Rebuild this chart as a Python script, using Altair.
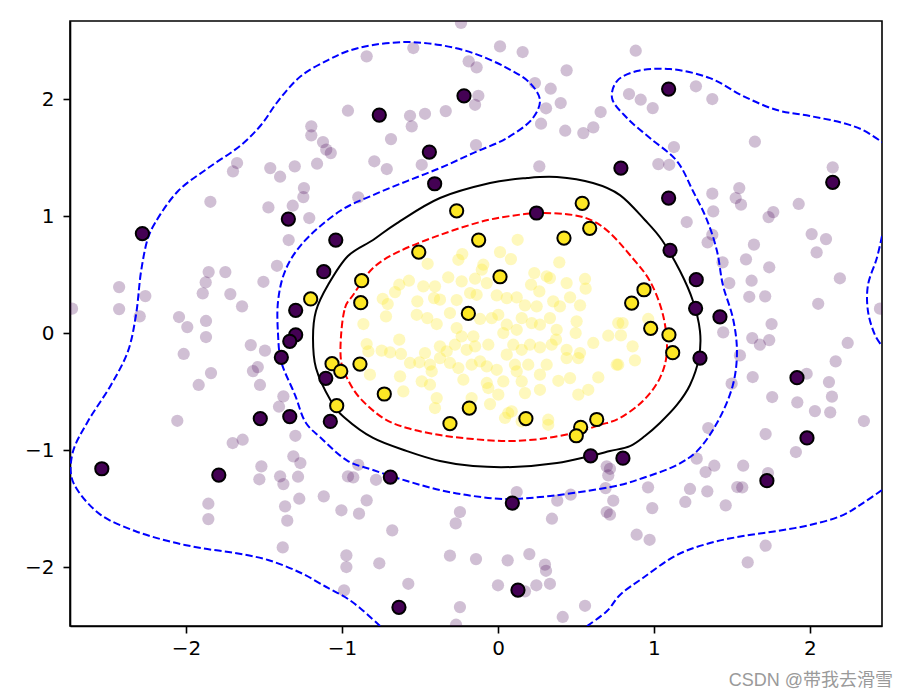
import altair as alt
import pandas as pd

# ---------------- data ----------------
# faint training points, class 0 (purple)
bg0_x = [-0.962,-1.197,-1.197,-1.122,-1.101,-1.072,-1.673,-1.699,-1.460,-1.303,-1.160,-1.397,-1.244,-1.248,-1.844,-1.472,-1.316,-1.210,
         -0.237,-0.543,-0.842,0.013,0.158,-0.188,-0.137,0.440,0.237,0.338,-0.126,-0.147,-0.564,-0.468,-0.335,0.308,0.402,-0.553,0.276,0.431,0.547,0.611,0.658,-0.686,-0.141,-0.793,-0.713,-0.489,0.265,-0.896,
         0.883,0.840,0.915,0.992,1.269,1.374,1.647,1.128,1.028,1.098,2.146,1.374,1.547,1.524,1.558,1.380,1.928,1.765,1.735,1.210,
         -1.342,-1.417,-1.504,-2.429,-2.261,-2.429,-2.731,-2.297,-1.855,-1.748,-1.874,-1.893,-1.716,-1.641,-2.045,-1.992,-1.872,-1.872,-2.015,-1.585,-1.494,-1.540,-1.571,-1.840,-1.919,-1.526,-1.376,-1.404,-2.056,
         -1.701,-1.637,-1.299,-1.312,-1.267,-1.517,-1.530,-1.397,-1.376,-1.282,-1.117,-1.274,-1.857,-1.857,-1.365,-1.351,-1.380,-1.004,-0.962,-0.972,-0.972,-0.987,
         -0.896,-0.928,-0.782,-0.842,-0.891,-0.678,-0.244,-0.271,0.120,0.380,0.466,0.346,0.697,0.707,0.718,0.690,0.739,0.697,0.718,-0.761,-0.308,-0.141,0.062,0.201,0.301,0.308,0.333,0.246,0.173,0.000,-0.575,-0.244,-0.269,0.415,0.558,
         1.348,1.716,1.910,2.346,1.274,1.387,1.331,1.572,1.731,1.534,1.566,0.962,1.231,1.342,1.201,0.989,1.460,0.889,0.972,1.716,1.601,
         1.374,1.344,2.011,2.103,2.043,1.641,1.590,1.739,1.440,1.483,1.626,1.611,1.713,2.192,2.053,1.754,1.444,1.630,1.679,1.739,2.242,1.551,2.165,1.633,1.979,2.122,1.498,2.141,1.758,1.919,2.032,2.130,2.449]
bg0_y = [1.900,1.767,1.690,1.632,1.567,1.538,1.453,1.382,1.410,1.425,1.447,1.336,1.239,1.162,1.122,1.074,1.088,0.983,
         2.650,2.436,2.365,2.450,2.402,2.322,2.271,2.245,2.137,2.088,2.028,1.951,1.857,1.874,1.897,1.921,1.966,1.767,1.789,1.729,1.709,1.758,1.889,1.658,1.607,1.468,1.402,1.438,1.425,1.160,
         2.413,2.043,1.994,1.923,2.109,2.000,1.635,1.590,1.444,1.438,1.416,1.191,1.239,1.154,1.097,1.040,1.103,1.034,0.991,0.949,
         0.795,0.575,0.438,0.393,0.316,0.205,0.208,0.143,0.521,0.521,0.433,0.339,0.333,0.228,0.137,0.051,0.103,-0.034,-0.179,-0.103,-0.151,-0.291,-0.325,-0.342,-0.444,-0.444,-0.541,-0.630,-0.750,
         -0.940,-0.912,-0.878,-1.054,-1.111,-1.139,-1.250,-1.225,-1.291,-1.228,-1.396,-1.416,-1.459,-1.590,-1.481,-1.604,-1.832,-1.515,-1.225,-1.900,-2.000,-2.199,
         -1.126,-1.233,-1.254,-1.430,-1.544,-1.686,-1.530,-1.627,-1.359,-1.433,-1.382,-1.587,-1.139,-1.216,-1.160,-1.325,-1.433,-1.530,-1.553,-1.968,-1.903,-1.932,-1.943,-1.889,-1.980,-2.032,-2.143,-2.156,-2.208,-2.156,-2.143,-2.342,-2.493,-2.427,-2.331,
         -0.812,-0.863,-1.017,-0.752,-1.074,-1.134,-1.188,-1.134,-1.197,-1.316,-1.319,-1.319,-1.333,-1.353,-1.444,-1.496,-1.473,-1.724,-1.767,-1.818,-1.960,
         0.840,0.775,0.846,0.803,0.690,0.755,0.630,0.562,0.604,0.427,0.447,0.310,0.314,0.468,0.250,0.077,0.006,-0.043,-0.100,-0.060,-0.085,-0.191,-0.242,-0.376,-0.348,-0.419,-0.433,-0.544,-0.547,-0.592,-0.667,-0.678,0.208]

# faint training points, class 1 (yellow)
bg1_x = [0.126,-0.229,-0.254,0.013,0.083,-0.451,-0.094,-0.104,0.393,0.233,-0.319,-0.233,-0.147,-0.072,-0.571,-0.633,-0.660,-0.479,-0.404,0.312,0.333,0.212,0.440,0.558,0.562,0.265,
         -0.739,-0.707,-0.718,-0.517,-0.410,-0.372,-0.265,-0.179,-0.137,-0.008,0.056,0.120,0.173,0.248,0.354,0.397,0.462,0.526,
         -0.521,-0.453,-0.393,-0.308,-0.265,-0.233,-0.158,-0.115,-0.040,0.002,0.056,0.034,0.120,0.152,0.216,0.269,0.333,0.376,0.504,0.498,0.707,0.771,
         -0.863,-0.633,-0.842,-0.831,-0.746,-0.692,-0.622,-0.468,-0.372,-0.329,-0.276,-0.201,-0.147,-0.062,0.098,0.152,0.205,0.269,0.344,0.372,0.440,0.526,0.611,
         -0.564,-0.504,-0.436,-0.425,-0.372,-0.308,-0.254,-0.169,-0.115,-0.072,-0.008,0.056,0.109,0.120,0.194,0.312,0.440,0.515,0.761,
         -0.821,-0.628,-0.489,-0.436,-0.222,-0.072,0.034,0.152,0.269,0.387,0.462,0.643,
         -0.607,-0.393,-0.062,0.002,0.173,0.269,0.515,0.579,-0.404,-0.169,-0.051,0.066,0.088,0.322,0.045,0.322,0.152,
         0.799,0.788,0.963,0.863,0.878,0.771]
bg1_y = [0.797,0.675,0.626,0.692,0.632,0.592,0.584,0.541,0.604,0.513,0.476,0.442,0.464,0.427,0.447,0.413,0.350,0.399,0.399,0.485,0.470,0.413,0.427,0.462,0.379,0.356,
         0.293,0.248,0.143,0.271,0.299,0.285,0.282,0.342,0.327,0.322,0.299,0.305,0.237,0.228,0.271,0.228,0.305,0.237,
         0.156,0.128,0.077,0.171,0.043,-0.028,-0.028,0.120,0.128,0.156,0.071,0.000,0.028,0.128,0.085,0.071,0.128,0.028,0.100,0.000,-0.023,0.085,
         0.077,-0.057,-0.094,-0.156,-0.151,-0.165,-0.179,-0.171,-0.114,-0.156,-0.100,-0.143,-0.114,-0.100,-0.100,-0.143,-0.100,-0.122,-0.100,-0.057,-0.143,-0.171,-0.085,
         -0.256,-0.250,-0.271,-0.327,-0.214,-0.256,-0.299,-0.271,-0.242,-0.285,-0.314,-0.185,-0.271,-0.327,-0.271,-0.271,-0.214,-0.214,-0.271,
         -0.356,-0.370,-0.413,-0.442,-0.399,-0.427,-0.413,-0.413,-0.356,-0.408,-0.385,-0.379,
         -0.498,-0.556,-0.470,-0.527,-0.513,-0.485,-0.527,-0.485,-0.641,-0.556,-0.607,-0.684,-0.669,-0.741,-0.726,-0.784,-0.755,
         0.085,-0.020,0.120,-0.114,-0.233,-0.271]

# support vectors, class 0
sv0_x = [-2.28,-2.54,-1.79,-0.761,-0.218,-0.440,-0.406,-1.344,-1.040,-1.117,-1.297,-1.297,-1.335,-1.389,-1.104,-1.524,-1.335,-1.075,
         0.247,0.788,1.094,1.094,2.146,1.103,1.271,1.267,1.423,1.295,1.917,0.594,0.801,-0.690,0.092,0.128,-0.635,1.981,1.724]
sv0_y = [0.85,-1.16,-1.214,1.863,2.028,1.547,1.276,0.974,0.795,0.524,0.194,-0.015,-0.071,-0.208,-0.387,-0.731,-0.714,-0.756,
         1.026,1.410,2.085,1.154,1.288,0.707,0.456,0.211,0.139,-0.214,-0.382,-1.049,-1.070,-1.231,-1.453,-2.197,-2.344,-0.897,-1.262]

# support vectors, class 1
sv1_x = [-1.201,-1.064,-1.008,-1.034,-0.265,0.540,0.588,0.423,-0.124,-0.508,0.013,-0.874,-0.880,-0.190,-0.885,-0.729,-0.184,0.179,0.633,-0.308,0.530,0.502,0.936,0.857,0.979,1.096,1.120]
sv1_y = [0.291,-0.262,-0.327,-0.621,1.045,1.109,0.895,0.812,0.795,0.692,0.481,0.447,0.259,0.168,-0.265,-0.521,-0.641,-0.731,-0.739,-0.774,-0.806,-0.878,0.370,0.256,0.040,-0.015,-0.168]

# decision function = 0 contour (closed loop)
c0_x = [-1.186,-1.167,-1.090,-0.962,-0.801,-0.647,-0.372,-0.051,0.186,0.378,0.609,0.782,0.942,1.051,1.167,1.250,1.295,1.288,1.231,1.147,1.038,0.942,0.846,0.718,0.590,0.378,0.096,-0.160,-0.372,-0.583,-0.801,-0.981,-1.071,-1.167]
c0_y = [-0.043,0.188,0.410,0.658,0.795,0.940,1.154,1.282,1.325,1.333,1.282,1.179,0.966,0.795,0.530,0.274,0.017,-0.214,-0.444,-0.615,-0.769,-0.880,-0.966,-1.009,-1.051,-1.111,-1.145,-1.137,-1.094,-1.009,-0.897,-0.726,-0.581,-0.299]

# +1 margin contour (closed loop, red)
cp_x = [-1.006,-0.981,-0.929,-0.801,-0.628,-0.372,-0.115,0.077,0.269,0.481,0.609,0.718,0.846,0.974,1.058,1.083,1.038,0.929,0.782,0.654,0.481,0.269,0.058,-0.160,-0.372,-0.583,-0.737,-0.885,-0.968,-1.006]
cp_y = [-0.017,0.214,0.325,0.556,0.701,0.838,0.949,1.000,1.026,1.009,0.957,0.855,0.667,0.444,0.154,-0.154,-0.385,-0.581,-0.726,-0.786,-0.855,-0.906,-0.923,-0.906,-0.872,-0.812,-0.726,-0.556,-0.385,-0.239]

# -1 margin contour pieces (blue)
cm1_x = [-0.756,-0.885,-0.981,-1.090,-1.263,-1.474,-1.686,-1.904,-2.115,-2.327,-2.545,-2.692,-2.737,-2.724,-2.628,-2.481,-2.372,-2.321,-2.288,-2.244,-2.199,-2.051,-1.859,-1.647,-1.519,-1.410,-1.263,-1.090,-0.962,-0.801,-0.583,-0.372,-0.160,0.058,0.205,0.269,0.224,0.058,-0.160,-0.372,-0.583,-0.801,-1.013,-1.263,-1.365,-1.410,-1.410,-1.391,-1.301,-1.231,-1.135,-0.962,-0.801,-0.583,-0.372,-0.160,0.058,0.269,0.481,0.782,0.929,1.147,1.276,1.404,1.506,1.532,1.506,1.442,1.404,1.340,1.250,1.147,0.974,0.827,0.731,0.763,0.891,1.103,1.359,1.571,1.788,2.000,2.212,2.340,2.462]
cm1_y = [-2.504,-2.350,-2.256,-2.179,-2.051,-1.940,-1.880,-1.838,-1.778,-1.692,-1.556,-1.350,-1.214,-1.009,-0.752,-0.444,-0.154,0.154,0.530,0.812,0.940,1.214,1.410,1.607,1.778,1.983,2.197,2.333,2.410,2.462,2.487,2.462,2.393,2.265,2.137,1.991,1.838,1.667,1.538,1.410,1.299,1.179,1.043,0.752,0.530,0.274,-0.017,-0.239,-0.530,-0.769,-0.897,-1.094,-1.171,-1.265,-1.342,-1.393,-1.419,-1.402,-1.368,-1.299,-1.239,-1.128,-1.009,-0.769,-0.444,-0.154,0.128,0.410,0.701,0.966,1.214,1.470,1.667,1.838,2.009,2.154,2.239,2.256,2.179,2.026,1.906,1.855,1.795,1.735,1.632]
cm2_x = [0.571,0.699,0.782,0.929,1.147,1.359,1.571,1.788,2.000,2.212,2.340,2.462]
cm2_y = [-2.504,-2.376,-2.239,-2.094,-1.897,-1.795,-1.735,-1.692,-1.641,-1.556,-1.453,-1.342]
cm3_x = [2.462,2.429,2.372,2.372,2.417,2.462]
cm3_y = [0.829,0.641,0.410,0.188,-0.017,-0.111]

tick_vals = [-2, -1, 0, 1, 2]
x_domain = [-2.744, 2.462]
y_domain = [-2.504, 2.667]
watermark = ["CSDN @带我去滑雪"]

# ---------------- chart ----------------
def pts(xs, ys):
    return pd.DataFrame({"x": xs, "y": ys})

def path(xs, ys):
    return pd.DataFrame({"x": xs, "y": ys, "i": list(range(len(xs)))})

xs = alt.Scale(domain=x_domain, nice=False, zero=False)
ys = alt.Scale(domain=y_domain, nice=False, zero=False)
X = alt.X("x:Q", scale=xs, axis=alt.Axis(values=tick_vals, labelPadding=5, title=None))
Y = alt.Y("y:Q", scale=ys, axis=alt.Axis(values=tick_vals, labelPadding=9, title=None))

bg0 = alt.Chart(pts(bg0_x, bg0_y)).mark_circle(size=150, color="#440154", opacity=0.25, clip=True).encode(x=X, y=Y)
bg1 = alt.Chart(pts(bg1_x, bg1_y)).mark_circle(size=150, color="#fde725", opacity=0.3, clip=True).encode(x=X, y=Y)

DASH = [7.3, 3.2]

def line(xs_, ys_, color, interp, dash=None):
    kw = dict(color=color, strokeWidth=2, clip=True, interpolate=interp)
    if dash:
        kw["strokeDash"] = dash
    return alt.Chart(path(xs_, ys_)).mark_line(**kw).encode(x=X, y=Y, order="i:Q")

l0 = line(c0_x, c0_y, "black", "cardinal-closed")
lp = line(cp_x, cp_y, "#ff0000", "cardinal-closed", DASH)
lm1 = line(cm1_x, cm1_y, "#0000ff", "catmull-rom", DASH)
lm2 = line(cm2_x, cm2_y, "#0000ff", "catmull-rom", DASH)
lm3 = line(cm3_x, cm3_y, "#0000ff", "catmull-rom", DASH)

sv0 = alt.Chart(pts(sv0_x, sv0_y)).mark_point(shape="circle", filled=True, size=175, fill="#440154",
                                              stroke="black", strokeWidth=2, opacity=1, clip=True).encode(x=X, y=Y)
sv1 = alt.Chart(pts(sv1_x, sv1_y)).mark_point(shape="circle", filled=True, size=175, fill="#fde725",
                                              stroke="black", strokeWidth=2, opacity=1, clip=True).encode(x=X, y=Y)

wm = alt.Chart(pd.DataFrame({"t": watermark})).mark_text(
    align="right", baseline="middle", fontSize=18, font="Liberation Sans, Noto Sans CJK SC", color="#9a9a9a"
).encode(x=alt.value(823), y=alt.value(660), text="t:N")

chart = alt.layer(bg0, bg1, l0, lp, lm1, lm2, lm3, sv0, sv1, wm).properties(
    width=812, height=605,
    autosize=alt.AutoSizeParams(type="none"),
    padding={"left": 70, "top": 21, "right": 27, "bottom": 73},
    background="white",
).configure_view(stroke="black", strokeWidth=1.6).configure_axis(
    grid=False, labelFontSize=20, labelColor="black", labelFont="DejaVu Sans",
    tickColor="black", tickSize=7, tickWidth=1.6, domainColor="black", domainWidth=1.6,
    labelFlush=False, labelOverlap=False
)

chart.save("out.html", embed_options={"renderer": "svg", "actions": False})
